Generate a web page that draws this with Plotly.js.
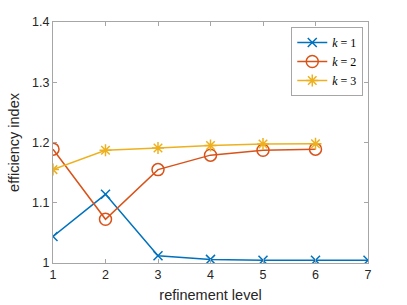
<!DOCTYPE html>
<html>
<head>
<meta charset="utf-8">
<script src="https://cdn.plot.ly/plotly-3.0.1.min.js"></script>
<style>html,body{margin:0;padding:0;background:#fff;}#chart{width:407px;height:305px;}</style>
</head>
<body>
<div id="chart"></div>
<script>
const levels = [1, 2, 3, 4, 5, 6, 7];
const k1 = [1.044, 1.114, 1.012, 1.006, 1.0045, 1.0045, 1.0045];
const k2 = [1.189, 1.0725, 1.155, 1.179, 1.187, 1.189];
const k3 = [1.155, 1.187, 1.191, 1.195, 1.1975, 1.198];
const xTicks = [1, 2, 3, 4, 5, 6, 7];
const yTicks = [1, 1.1, 1.2, 1.3, 1.4];
const yTickText = ['1', '1.1', '1.2', '1.3', '1.4'];
const names = ['<i>k</i> = 1', '<i>k</i> = 2', '<i>k</i> = 3'];

const traces = [
  {x: levels.slice(0, k1.length), y: k1, name: names[0], mode: 'lines+markers',
   line: {color: '#0072BD', width: 1.5}, marker: {symbol: 'x-thin-open', size: 9, color: '#0072BD', line: {color: '#0072BD', width: 1.5}}},
  {x: levels.slice(0, k2.length), y: k2, name: names[1], mode: 'lines+markers',
   line: {color: '#D95319', width: 1.5}, marker: {symbol: 'circle-open', size: 12, color: '#D95319', line: {color: '#D95319', width: 1.5}}},
  {x: levels.slice(0, k3.length), y: k3, name: names[2], mode: 'lines+markers',
   line: {color: '#EDB120', width: 1.5}, marker: {symbol: 'asterisk-open', size: 10, color: '#EDB120', line: {color: '#EDB120', width: 1.5}}}
];

const axisCommon = {
  showline: true, linecolor: '#a6a6a6', linewidth: 1, mirror: 'ticks',
  ticks: 'inside', ticklen: 4, tickcolor: '#a6a6a6', showgrid: false, zeroline: false,
  tickfont: {family: 'Liberation Sans, Arial, sans-serif', size: 12.5, color: '#262626'}
};

const layout = {
  width: 407, height: 305,
  margin: {l: 53, r: 39, t: 22, b: 42},
  paper_bgcolor: '#fff', plot_bgcolor: '#fff',
  showlegend: true,
  xaxis: Object.assign({}, axisCommon, {
    range: [1, 7], tickvals: xTicks, ticktext: xTicks.map(String),
    title: {text: 'refinement level', standoff: 8, font: {family: 'Liberation Sans, Arial, sans-serif', size: 14.5, color: '#262626'}}
  }),
  yaxis: Object.assign({}, axisCommon, {
    range: [1, 1.4], tickvals: yTicks, ticktext: yTickText,
    title: {text: 'efficiency index', standoff: 9, font: {family: 'Liberation Sans, Arial, sans-serif', size: 14.5, color: '#262626'}}
  }),
  legend: {
    x: 0.985, y: 0.979, xanchor: 'right', yanchor: 'top',
    bordercolor: '#a6a6a6', borderwidth: 1, bgcolor: '#fff',
    font: {family: 'Liberation Serif, DejaVu Serif, serif', size: 12, color: '#000'},
    itemwidth: 30, tracegroupgap: 0
  }
};

Plotly.newPlot('chart', traces, layout, {staticPlot: true, displayModeBar: false});
</script>
</body>
</html>
